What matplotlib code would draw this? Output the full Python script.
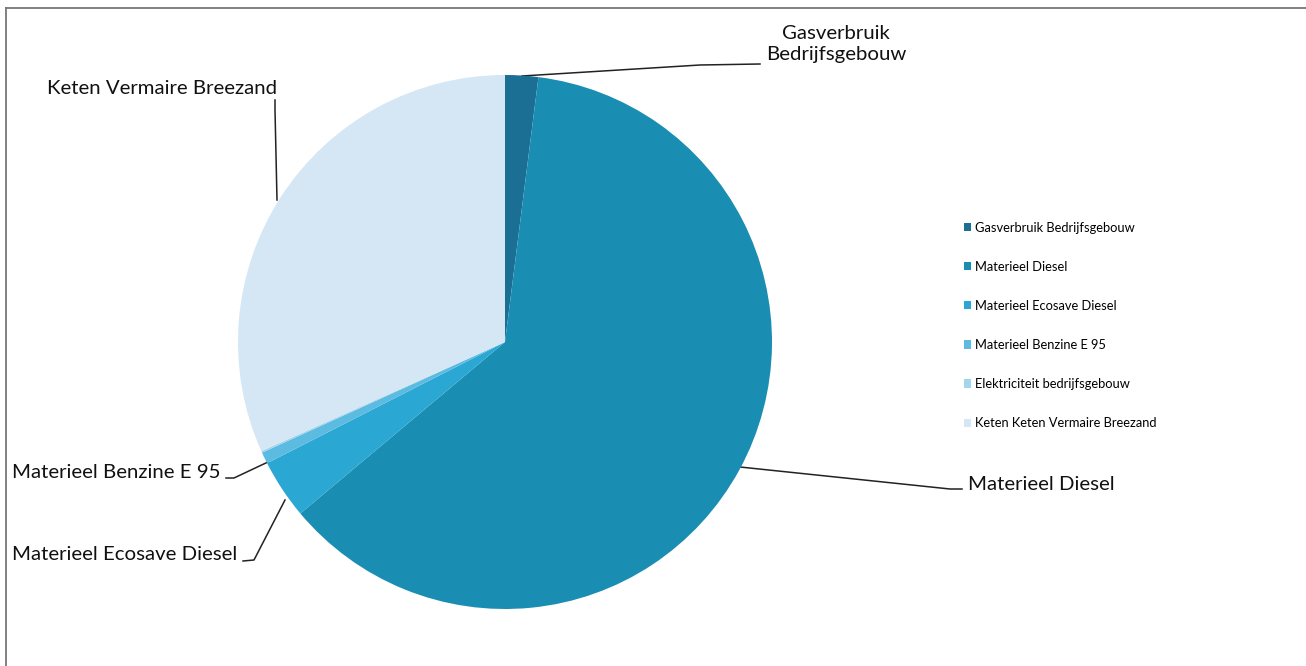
import matplotlib
matplotlib.use("Agg")
import matplotlib.pyplot as plt
from matplotlib.lines import Line2D

# ----------------------------------------
#  Data
# ----------------------------------------
LABELS = [
    "Gasverbruik Bedrijfsgebouw",
    "Materieel Diesel",
    "Materieel Ecosave Diesel",
    "Materieel Benzine E 95",
    "Elektriciteit bedrijfsgebouw",
    "Keten Keten Vermaire Breezand",
]
VALUES = [2.0, 61.9, 3.6, 0.7, 0.1, 31.7]
COLORS = ["#1c6f94", "#1a8db3", "#2aa7d3", "#5cbbe0", "#a3d5ec", "#d5e7f4"]

# callout texts (pie labels)
CALLOUTS = {
    0: "Gasverbruik\nBedrijfsgebouw",
    1: "Materieel Diesel",
    2: "Materieel Ecosave Diesel",
    3: "Materieel Benzine E 95",
    5: "Keten Vermaire Breezand",
}

W, H = 1306, 666
FONT = "Lato"

fig = plt.figure(figsize=(W / 100, H / 100), dpi=100)
ax = fig.add_axes([0, 0, 1, 1])
ax.set_xlim(0, W)
ax.set_ylim(H, 0)
ax.axis("off")

# pie drawn in its own axes so the circle stays round
pax = fig.add_axes([0, 0, 1, 1])
cx, cy, r = 505, H - 342, 267
wedges, _ = pax.pie(VALUES, colors=COLORS, startangle=90, counterclock=False,
                    center=(cx, cy), radius=r, frame=True,
                    wedgeprops=dict(linewidth=0))
pax.set_xlim(0, W)
pax.set_ylim(0, H)
pax.set_aspect("equal")
pax.axis("off")

# ----------------------------------------
#  Leader lines + labels (pixel coords, y down)
# ----------------------------------------
lines = {
    0: [(522, 76), (700, 65), (760, 64)],
    1: [(740, 467), (950, 489), (962, 489)],
    2: [(285, 500), (254, 560), (243, 561)],
    3: [(268, 462), (234, 478), (226, 478)],
    5: [(277, 200), (275, 110), (275, 100)],
}
for k, pts in lines.items():
    xs, ys = zip(*pts)
    ax.plot(xs, ys, color="#222222", lw=1.1)

txt = dict(fontsize=14.7, family=FONT, color="#111111")
ax.text(836, 44, CALLOUTS[0], ha="center", va="center", linespacing=1.3, **txt)
ax.text(968, 484, CALLOUTS[1], ha="left", va="center", **txt)
ax.text(12, 555, CALLOUTS[2], ha="left", va="center", **txt)
ax.text(12, 472, CALLOUTS[3], ha="left", va="center", **txt)
ax.text(47, 88, CALLOUTS[5], ha="left", va="center", **txt)

# ----------------------------------------
#  Legend
# ----------------------------------------
leg = fig.legend(wedges, LABELS, loc="upper left",
                 bbox_to_anchor=(952 / W, 1 - 210 / H),
                 frameon=False, labelspacing=2.1,
                 handlelength=0.6, handleheight=0.6, handletextpad=0.25,
                 prop=dict(family=FONT, size=9.3))

# ----------------------------------------
#  Border (scan frame)
# ----------------------------------------
ax.add_line(Line2D([6, W], [8, 8], color="#777777", lw=1.3))
ax.add_line(Line2D([6, 6], [8, H], color="#777777", lw=1.3))

fig.savefig("out.png", dpi=100)
